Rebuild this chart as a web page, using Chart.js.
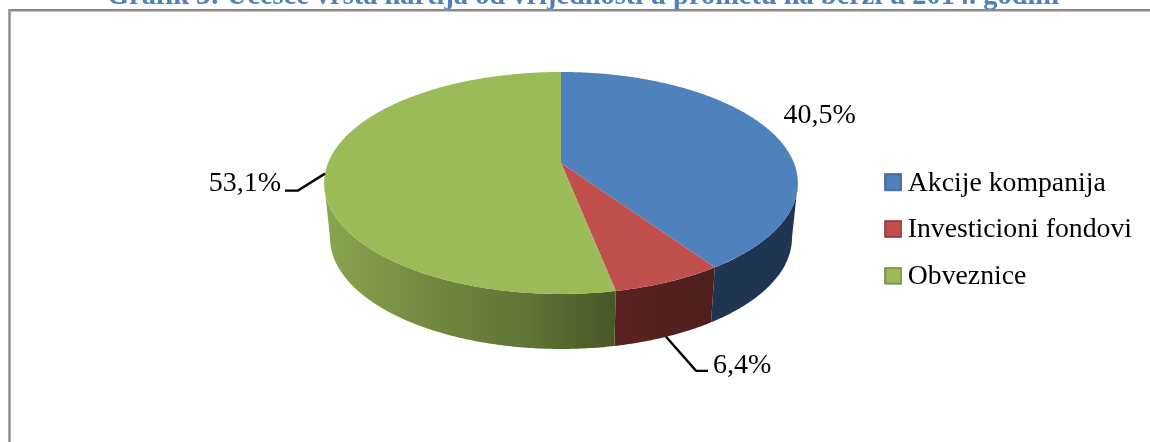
<!DOCTYPE html>
<html><head><meta charset="utf-8">
<style>html,body{margin:0;padding:0;background:#fff;overflow:hidden}#w{width:1150px;height:442px}</style>
<script src="https://cdn.jsdelivr.net/npm/chart.js@4"></script></head>
<body><div id="w"><canvas id="c" width="1150" height="442"></canvas></div>
<script>
const titleText = 'Grafik 3: Učešće vrsta hartija od vrijednosti u prometu na berzi u 2014. godini';
const categories = ['Akcije kompanija', 'Investicioni fondovi', 'Obveznice'];
const shares = [40.5, 6.4, 53.1];
const topColors = ['#4f81bd', '#c0504d', '#9bbb59'];
const legendBorders = ['#385d8a', '#8c3836', '#71893f'];

const FONT = '"Liberation Serif", serif';
// perspective view of the pie's top face and its lower rim
const V = {cx:561, cy:163, A:233, B:107.4, k:0.18, bx:0.975, by:1, dy:55};
const rim = (a, bottom) => {
  const u = Math.cos(a), v = Math.sin(a), d = 1 - V.k * v;
  const ox = V.A * u / d, oy = V.B * v / d;
  return bottom ? [V.cx + ox * V.bx, V.cy + oy * V.by + V.dy] : [V.cx + ox, V.cy + oy];
};
const trace = (ctx, s, e, bottom, first) => {
  const n = Math.max(8, Math.ceil(Math.abs(e - s) * 90));
  for (let i = 0; i <= n; i++) {
    const p = rim(s + (e - s) * i / n, bottom);
    if (i === 0 && first) ctx.moveTo(p[0], p[1]); else ctx.lineTo(p[0], p[1]);
  }
};
const sideFill = (ctx, i) => {
  if (i === 0) return '#1f3552';
  const g = ctx.createLinearGradient(i === 1 ? 616 : 325, 0, i === 1 ? 712 : 616, 0);
  if (i === 1) { g.addColorStop(0, '#5a2321'); g.addColorStop(1, '#4e1f1d'); }
  else { g.addColorStop(0, '#89a54f'); g.addColorStop(0.35, '#728a41'); g.addColorStop(0.7, '#5f7435'); g.addColorStop(1, '#485727'); }
  return g;
};
const leaders = [null, [[30, 34], [42, 34]], [[-27, 17], [-40, 17]]];
const labelPos = [[11, -17, 'left'], [47, 29, 'left'], [-44, 10, 'right']];
const swatch = i => {
  const s = document.createElement('canvas'); s.width = 18; s.height = 20;
  const x = s.getContext('2d');
  x.fillStyle = topColors[i]; x.fillRect(1, 1, 16, 16);
  x.strokeStyle = legendBorders[i]; x.lineWidth = 1.6; x.strokeRect(1, 1, 16, 16);
  return s;
};

const pie3d = {
  id: 'pie3d',
  beforeDatasetsDraw(chart) {
    const ctx = chart.ctx;
    const arcs = chart.getDatasetMeta(0).data.map(a => a.getProps(['startAngle', 'endAngle'], true));
    ctx.save();
    // frame
    ctx.strokeStyle = '#8a8a8a'; ctx.lineWidth = 2.4;
    ctx.beginPath(); ctx.moveTo(9.5, 442); ctx.lineTo(9.5, 10.2); ctx.lineTo(1150, 10.2); ctx.stroke();
    // visible front band of each slice, between the two silhouette tangents
    const tan = Math.asin(V.k);
    arcs.forEach((a, i) => {
      const s = Math.max(a.startAngle, tan), e = Math.min(a.endAngle, Math.PI - tan);
      if (e <= s) return;
      ctx.beginPath(); trace(ctx, s, e, false, true); trace(ctx, e, s, true, false); ctx.closePath();
      ctx.fillStyle = sideFill(ctx, i); ctx.fill();
    });
    arcs.forEach((a, i) => {
      ctx.beginPath(); ctx.moveTo(V.cx, V.cy); trace(ctx, a.startAngle, a.endAngle, false, false); ctx.closePath();
      ctx.fillStyle = topColors[i]; ctx.fill();
    });
    // data labels with leader lines
    ctx.font = '28px ' + FONT; ctx.fillStyle = '#000'; ctx.textBaseline = 'middle';
    arcs.forEach((a, i) => {
      const m = (a.startAngle + a.endAngle) / 2;
      const p = rim(m, i === 1);
      const L = leaders[i];
      if (L) {
        ctx.strokeStyle = '#000'; ctx.lineWidth = 2.4; ctx.beginPath(); ctx.moveTo(p[0], p[1]);
        L.forEach(o => ctx.lineTo(p[0] + o[0], p[1] + o[1])); ctx.stroke();
      }
      const q = labelPos[i];
      ctx.textAlign = q[2];
      ctx.fillText(shares[i].toFixed(1).replace('.', ',') + '%', p[0] + q[0], p[1] + q[1]);
    });
    ctx.restore();
    return false;
  }
};

new Chart(document.getElementById('c'), {
  type: 'pie',
  plugins: [pie3d],
  data: { labels: categories, datasets: [{ data: shares, backgroundColor: topColors, borderWidth: 0 }] },
  options: {
    responsive: false, animation: false, rotation: 0,
    layout: { padding: { top: 18, right: 8, bottom: 0, left: 24 } },
    plugins: {
      tooltip: { enabled: false },
      title: { display: true, text: titleText, color: '#4f81bd', font: { family: FONT, size: 28.4, weight: 'bold' }, padding: { top: -38.5, bottom: 4.5 } },
      legend: {
        position: 'right',
        labels: {
          usePointStyle: true, pointStyleWidth: 1, boxWidth: 17, boxHeight: 17, padding: 19, color: '#000',
          font: { family: FONT, size: 27.75 },
          generateLabels: () => categories.map((t, i) => ({ text: t, fillStyle: topColors[i], strokeStyle: legendBorders[i], lineWidth: 1.5, index: i, pointStyle: swatch(i) }))
        }
      }
    }
  }
});
</script></body></html>
